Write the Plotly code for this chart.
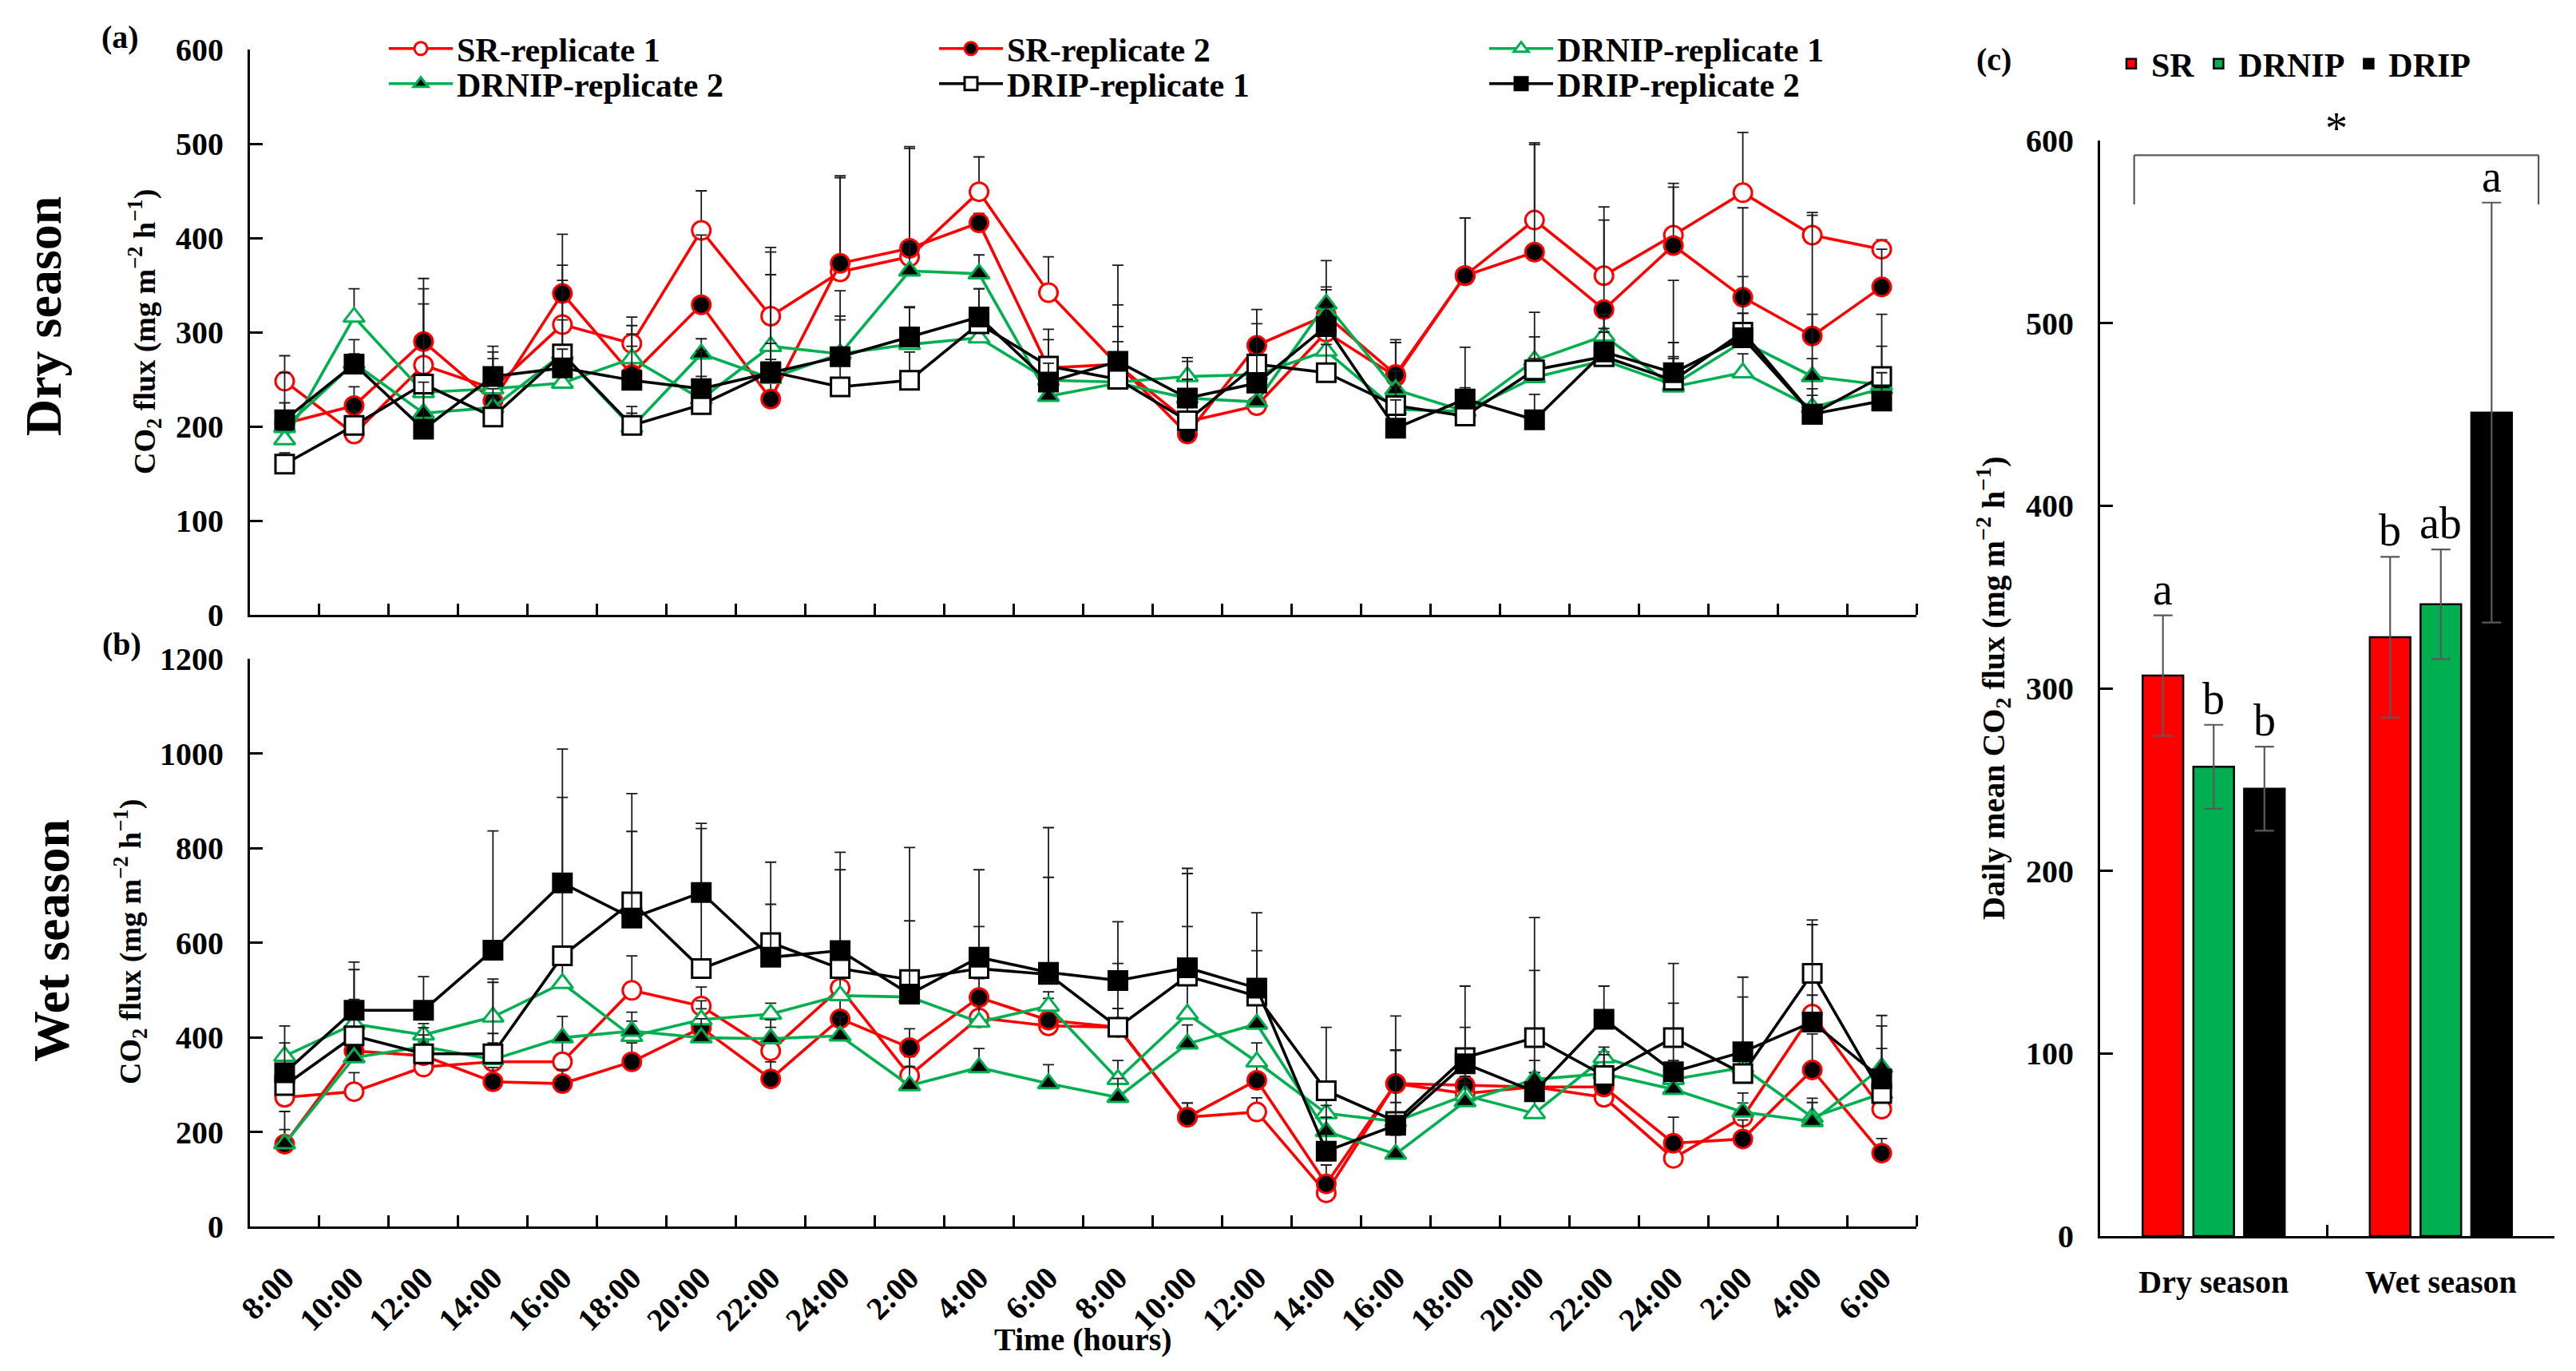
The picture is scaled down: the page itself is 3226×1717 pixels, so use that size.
import plotly.graph_objects as go

W, H = 3226, 1717
SERIF = "Liberation Serif"
RED, GREEN, BLACK = "#FF0000", "#00B050", "#000000"

time_labels = ["8:00", "10:00", "12:00", "14:00", "16:00", "18:00", "20:00", "22:00",
               "24:00", "2:00", "4:00", "6:00", "8:00", "10:00", "12:00", "14:00",
               "16:00", "18:00", "20:00", "22:00", "24:00", "2:00", "4:00", "6:00"]

# ---- (a) Dry season, CO2 flux (mg m-2 h-1) ----
dry_sr1 = [248, 192, 265, 240, 308, 288, 408, 317, 364, 380, 449, 342, 265, 205, 222, 300, 253, 360, 419, 360, 403, 448, 403, 388]
dry_sr2 = [203, 222, 290, 227, 341, 255, 329, 229, 373, 389, 416, 262, 266, 192, 286, 318, 255, 360, 385, 324, 392, 337, 296, 348]
dry_drnip1 = [186, 316, 236, 240, 246, 272, 229, 285, 277, 287, 294, 249, 247, 253, 255, 280, 218, 216, 270, 296, 242, 257, 220, 240]
dry_drnip2 = [199, 267, 214, 220, 277, 199, 277, 251, 277, 365, 362, 232, 246, 230, 226, 330, 239, 216, 252, 270, 244, 290, 253, 244]
dry_drip1 = [160, 201, 245, 210, 277, 201, 223, 258, 242, 249, 309, 264, 250, 206, 266, 257, 222, 211, 260, 274, 249, 300, 213, 253]
dry_drip2 = [207, 266, 197, 253, 262, 249, 240, 257, 274, 295, 316, 247, 269, 230, 246, 306, 198, 229, 207, 279, 257, 294, 213, 227]

dry_sr1_err = [27, 15, 81, 39, 63, 28, 42, 73, 102, 117, 37, 38, 106, 15, 20, 76, 39, 61, 82, 73, 55, 64, 24, 10]
dry_sr2_err = [22, 20, 67, 25, 63, 30, 74, 30, 91, 106, 10, 30, 40, 15, 38, 30, 34, 61, 114, 95, 62, 95, 128, 40]
dry_drnip1_err = [10, 30, 20, 32, 20, 35, 20, 100, 36, 40, 30, 20, 30, 20, 20, 30, 20, 20, 25, 20, 30, 20, 20, 20]
dry_drnip2_err = [15, 10, 30, 20, 36, 15, 16, 20, 40, 30, 20, 20, 30, 20, 20, 15, 20, 20, 20, 30, 30, 30, 66, 41]
dry_drip1_err = [12, 15, 85, 20, 78, 20, 30, 30, 40, 30, 37, 39, 40, 20, 43, 30, 20, 30, 61, 30, 40, 59, 59, 66]
dry_drip2_err = [50, 26, 50, 32, 20, 49, 40, 104, 70, 31, 30, 20, 60, 39, 30, 20, 30, 55, 27, 40, 98, 26, 20, 30]

# ---- (b) Wet season ----
wet_sr1 = [273, 285, 337, 348, 348, 499, 466, 371, 504, 319, 441, 424, 421, 231, 242, 71, 302, 281, 295, 273, 144, 231, 449, 248]
wet_sr2 = [174, 371, 361, 306, 302, 348, 420, 312, 439, 378, 484, 436, 421, 231, 309, 90, 302, 298, 295, 295, 176, 185, 331, 155]
wet_drnip1 = [360, 428, 405, 443, 514, 402, 437, 449, 488, 485, 432, 466, 311, 449, 348, 239, 222, 277, 239, 357, 311, 336, 231, 281]
wet_drnip2 = [175, 357, 380, 353, 399, 413, 399, 397, 403, 298, 336, 302, 273, 386, 428, 201, 153, 264, 311, 323, 290, 242, 222, 336]
wet_drip1 = [298, 403, 365, 365, 572, 686, 545, 600, 545, 522, 545, 533, 421, 529, 487, 287, 222, 357, 399, 319, 399, 323, 535, 281]
wet_drip2 = [325, 457, 457, 584, 726, 652, 706, 569, 583, 491, 569, 537, 520, 547, 504, 159, 214, 344, 285, 438, 327, 369, 432, 312]

wet_sr1_err = [30, 40, 30, 40, 50, 73, 40, 50, 40, 40, 40, 40, 40, 30, 30, 20, 143, 30, 30, 30, 30, 30, 40, 30]
wet_sr2_err = [69, 40, 30, 30, 30, 40, 40, 36, 40, 40, 40, 46, 40, 30, 40, 40, 70, 30, 30, 30, 55, 40, 76, 31]
wet_drnip1_err = [28, 52, 24, 80, 50, 32, 40, 23, 40, 30, 40, 30, 40, 185, 40, 30, 40, 40, 40, 12, 40, 40, 40, 40]
wet_drnip2_err = [30, 40, 40, 55, 45, 40, 40, 40, 40, 40, 40, 40, 40, 40, 40, 30, 40, 40, 40, 40, 40, 40, 40, 40]
wet_drip1_err = [40, 140, 40, 151, 335, 229, 296, 170, 209, 279, 89, 310, 135, 217, 96, 134, 151, 151, 254, 60, 157, 162, 113, 143]
wet_drip2_err = [99, 102, 71, 252, 283, 183, 146, 112, 208, 155, 185, 201, 124, 210, 159, 97, 159, 77, 256, 70, 145, 158, 206, 134]

# ---- (c) Daily mean ----
seasons = ["Dry season", "Wet season"]
treatments = ["SR", "DRNIP", "DRIP"]
mean_sr = [307, 328]
mean_drnip = [257, 346]
mean_drip = [245, 451]
sd_sr = [33, 44]
sd_drnip = [23, 30]
sd_drip = [23, 115]
letters_sr = ["a", "b"]
letters_drnip = ["b", "ab"]
letters_drip = ["b", "a"]


def px(x):
    return x / W


def py(y):
    return 1 - y / H


fig = go.Figure()
idx = list(range(len(time_labels)))

series = [
    ("SR-replicate 1", dry_sr1, dry_sr1_err, wet_sr1, wet_sr1_err, RED, "circle", "white", "legend"),
    ("SR-replicate 2", dry_sr2, dry_sr2_err, wet_sr2, wet_sr2_err, RED, "circle", "black", "legend"),
    ("DRNIP-replicate 1", dry_drnip1, dry_drnip1_err, wet_drnip1, wet_drnip1_err, GREEN, "triangle-up", "white", "legend"),
    ("DRNIP-replicate 2", dry_drnip2, dry_drnip2_err, wet_drnip2, wet_drnip2_err, GREEN, "triangle-up", "black", "legend2"),
    ("DRIP-replicate 1", dry_drip1, dry_drip1_err, wet_drip1, wet_drip1_err, BLACK, "square", "white", "legend2"),
    ("DRIP-replicate 2", dry_drip2, dry_drip2_err, wet_drip2, wet_drip2_err, BLACK, "square", "black", "legend2"),
]

for name, dv, de, wv, we, col, sym, fill, leg in series:
    for vals, errs, xa, ya, show in [(dv, de, "x", "y", True), (wv, we, "x2", "y2", False)]:
        fig.add_trace(go.Scatter(
            x=idx, y=vals, mode="lines+markers", name=name, legend=leg, showlegend=show,
            line=dict(color=col, width=3.6),
            marker=dict(symbol=sym, size=23, color=fill, line=dict(color=col, width=3)),
            error_y=dict(type="data", array=errs, arrayminus=[0] * len(errs), symmetric=False,
                         color="#1a1a1a", thickness=1.8, width=7),
            xaxis=xa, yaxis=ya,
        ))

bar_means = [mean_sr, mean_drnip, mean_drip]
bar_sds = [sd_sr, sd_drnip, sd_drip]
bar_letters = [letters_sr, letters_drnip, letters_drip]
bar_colors = [RED, GREEN, BLACK]
for t, m, s, c in zip(treatments, bar_means, bar_sds, bar_colors):
    fig.add_trace(go.Bar(
        x=seasons, y=m, name=t, legend="legend3",
        marker=dict(color=c, line=dict(color="black", width=2.5)),
        error_y=dict(type="data", array=s, color="#595959", thickness=2.2, width=12),
        xaxis="x3", yaxis="y3",
    ))

tickfont = dict(family=SERIF, size=40, color="black", weight="bold")
axis_common = dict(showline=True, linewidth=3, linecolor="black", showgrid=False, zeroline=False,
                   tickfont=tickfont, tickcolor="black", tickwidth=2.5)

XA_L, XA_R = 313, 2400
bounds = [i + 0.5 for i in idx]
legend_font = dict(family=SERIF, size=42, color="black", weight="bold")

fig.update_layout(
    width=W, height=H, margin=dict(l=0, r=0, t=0, b=0, autoexpand=False),
    paper_bgcolor="white", plot_bgcolor="white",
    barmode="group", bargap=0.33, bargroupgap=0.2,
    xaxis=dict(domain=[px(XA_L), px(XA_R)], range=[-0.5, 23.5], tickvals=idx, ticktext=time_labels,
               showticklabels=False, ticks="", anchor="y",
               minor=dict(tickvals=bounds, ticks="inside", ticklen=14, tickwidth=2.5, tickcolor="black"),
               **axis_common),
    yaxis=dict(domain=[py(770), py(62)], range=[0, 600], tick0=0, dtick=100, ticks="inside", ticklen=16,
               anchor="x", ticklabelstandoff=22, **axis_common),
    xaxis2=dict(domain=[px(XA_L), px(XA_R)], range=[-0.5, 23.5], tickvals=idx, ticktext=time_labels,
                showticklabels=True, tickangle=-45, ticks="", anchor="y2", ticklabelstandoff=22,
                minor=dict(tickvals=bounds, ticks="inside", ticklen=14, tickwidth=2.5, tickcolor="black"),
                **axis_common),
    yaxis2=dict(domain=[py(1536), py(825)], range=[0, 1200], tick0=0, dtick=200, ticks="inside", ticklen=16,
                anchor="x2", ticklabelstandoff=22, **axis_common),
    xaxis3=dict(domain=[px(2630), px(3199)], type="category", tickson="boundaries", ticks="inside",
                ticklen=14, anchor="y3", ticklabelstandoff=20, **axis_common),
    yaxis3=dict(domain=[py(1548), py(176)], range=[0, 600], tick0=0, dtick=100, ticks="inside", ticklen=16,
                anchor="x3", ticklabelstandoff=22, **axis_common),
    legend=dict(x=px(482), y=py(61), xanchor="left", yanchor="middle", orientation="h",
                font=legend_font, itemwidth=80,
                entrywidth=594, entrywidthmode="pixels", bgcolor="rgba(0,0,0,0)", traceorder="normal"),
    legend2=dict(x=px(482), y=py(105), xanchor="left", yanchor="middle", orientation="h",
                 font=legend_font, itemwidth=80,
                 entrywidth=594, entrywidthmode="pixels", bgcolor="rgba(0,0,0,0)", traceorder="normal"),
    legend3=dict(x=px(2644), y=py(80), xanchor="left", yanchor="middle", orientation="h",
                 font=legend_font, itemwidth=40,
                 bgcolor="rgba(0,0,0,0)", traceorder="normal"),
)

ann = []


def label(text, x, y, size=40, angle=0, bold=True):
    ann.append(dict(text=text, x=px(x), y=py(y), xref="paper", yref="paper", showarrow=False,
                    xanchor="center", yanchor="middle", textangle=angle,
                    font=dict(family=SERIF, size=size, color="black", weight="bold" if bold else "normal")))


unit = "CO<sub>2</sub> flux (mg m<sup>−2</sup> h<sup>−1</sup>)"
label("(a)", 150, 46)
label("(b)", 152, 806)
label("(c)", 2497, 74)
label("Dry season", 55, 396, size=64, angle=-90)
label("Wet season", 64, 1178, size=64, angle=-90)
label(unit, 181, 416, size=38, angle=-90)
label(unit, 163, 1180, size=38, angle=-90)
label("Daily mean " + unit, 2496, 862, size=40, angle=-90)
label("Time (hours)", 1356, 1677, size=40)

# significance letters on bars
cat_px = (3199 - 2630) / len(seasons)
slot = cat_px * (1 - 0.33) / len(treatments)
for ti, (m, s, lets) in enumerate(zip(bar_means, bar_sds, bar_letters)):
    for si, season in enumerate(seasons):
        ann.append(dict(text=lets[si], x=season, y=m[si] + s[si], xref="x3", yref="y3",
                        xshift=(ti - 1) * slot, yanchor="bottom", showarrow=False,
                        font=dict(family=SERIF, size=56, color="black")))

# bracket and asterisk
br_left, br_right, br_low, br_top = -0.35, 1.43, 565, 592
line_style = dict(color="#595959", width=2.2)
shapes = [
    dict(type="line", xref="x3", yref="y3", x0=br_left, x1=br_right, y0=br_top, y1=br_top, line=line_style),
    dict(type="line", xref="x3", yref="y3", x0=br_left, x1=br_left, y0=br_low, y1=br_top, line=line_style),
    dict(type="line", xref="x3", yref="y3", x0=br_right, x1=br_right, y0=br_low, y1=br_top, line=line_style),
]
ann.append(dict(text="*", x=(br_left + br_right) / 2, y=br_top, xref="x3", yref="y3", yanchor="bottom",
                showarrow=False, font=dict(family=SERIF, size=56, color="black")))

fig.update_layout(annotations=ann, shapes=shapes)

fig.write_html("out.html", config={"displayModeBar": False},
               post_script="document.body.style.margin='0';")
